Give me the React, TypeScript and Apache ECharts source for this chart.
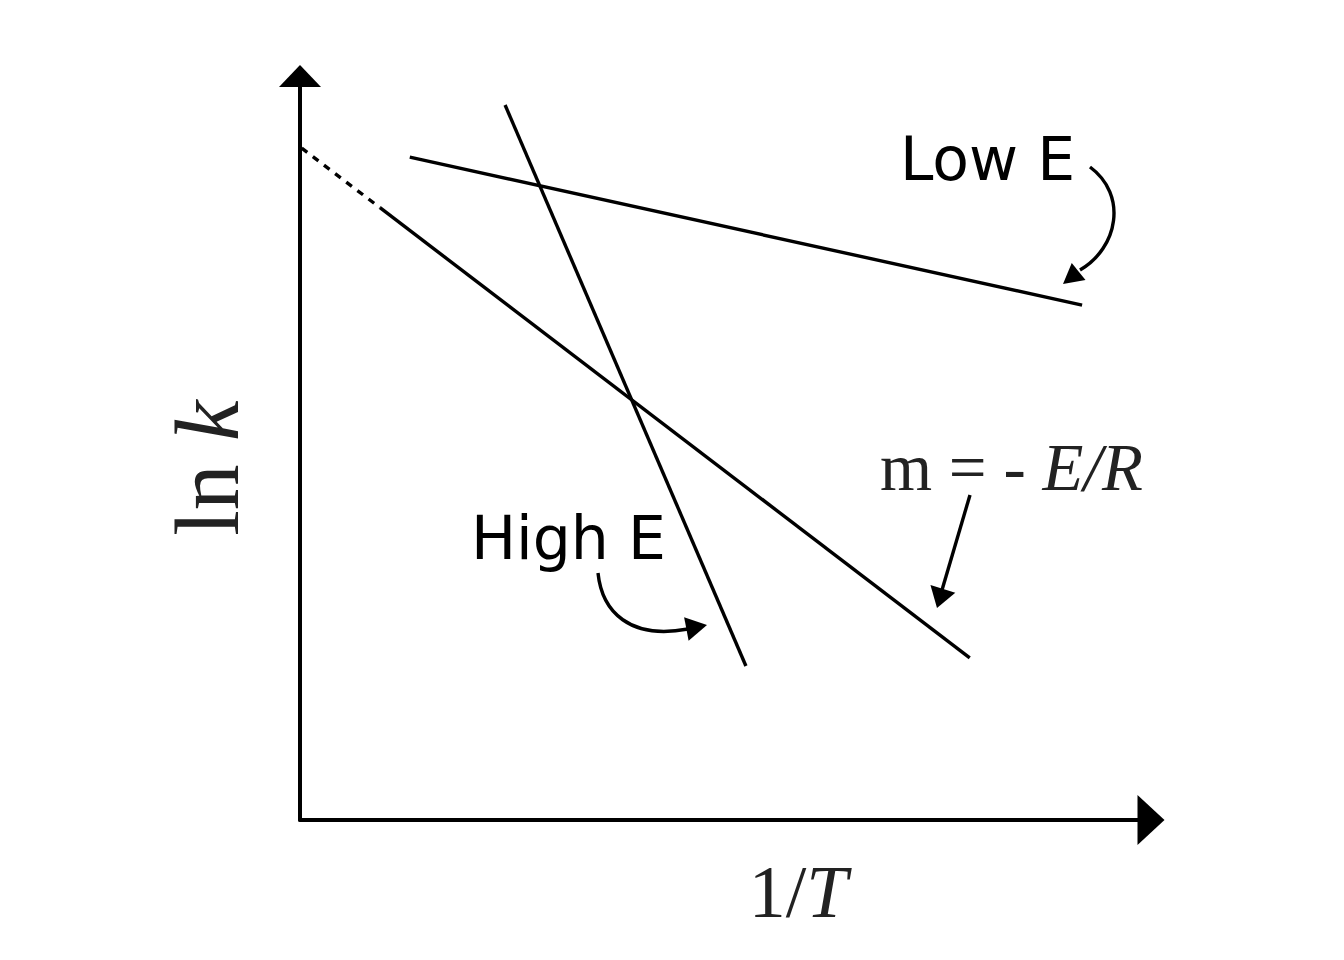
import { useEffect, useRef } from 'react';
import * as echarts from 'echarts';

// axes run 0..100 in both directions (arbitrary units, no ticks shown)
const AXIS_MIN = 0;
const AXIS_MAX = 100;

// the three Arrhenius lines: [1/T, ln k]
const lowE = [
  [12.9, 89.1],
  [91.9, 69.2],
];
const highE = [
  [24.1, 96.1],
  [52.4, 20.7],
];
const slopeExtrapolated = [
  [0.2, 90.3],
  [9.4, 82.3],
];
const slopeMeasured = [
  [9.4, 82.3],
  [78.7, 21.8],
];

const LABEL_LOW = 'Low E';
const LABEL_HIGH = 'High E';
const X_NAME = ['1/', 'T'];
const Y_NAME = ['ln ', 'k'];
const SLOPE_NAME = ['m = - ', 'E/R'];

const INK = '#000';
const SANS = '"DejaVu Sans", Verdana, sans-serif';
const SERIF = '"Liberation Serif", "Times New Roman", serif';

// small filled triangle at the end of an annotation stroke
function arrowHead(tip: number[], from: number[], len: number, wid: number) {
  const dx = tip[0] - from[0];
  const dy = tip[1] - from[1];
  const d = Math.hypot(dx, dy) || 1;
  const ux = dx / d;
  const uy = dy / d;
  const bx = tip[0] - ux * len;
  const by = tip[1] - uy * len;
  return {
    type: 'polygon',
    shape: {
      points: [
        tip,
        [bx - uy * (wid / 2), by + ux * (wid / 2)],
        [bx + uy * (wid / 2), by - ux * (wid / 2)],
      ],
    },
    style: { fill: INK },
    silent: true,
  };
}

export default function App() {
  const chartRef = useRef<HTMLDivElement>(null);

  useEffect(() => {
    if (!chartRef.current) return;
    const chart = echarts.init(chartRef.current, undefined, { renderer: 'svg' });

    const lineSeries = (data: number[][], dashed = false) => ({
      type: 'line' as const,
      data,
      symbol: 'none',
      silent: true,
      lineStyle: { color: INK, width: 3.4, type: dashed ? [7, 7] : 'solid' },
    });

    const axisCommon = {
      type: 'value' as const,
      min: AXIS_MIN,
      max: AXIS_MAX,
      axisTick: { show: false },
      axisLabel: { show: false },
      splitLine: { show: false },
    };

    chart.setOption({
      animation: false,
      backgroundColor: '#fff',
      grid: { left: 300, right: 193, top: 76, bottom: 140 },
      xAxis: {
        ...axisCommon,
        axisLine: {
          show: true,
          symbol: ['none', 'triangle'],
          symbolSize: [50, 27],
          lineStyle: { color: INK, width: 4 },
        },
      },
      yAxis: {
        ...axisCommon,
        axisLine: {
          show: true,
          symbol: ['none', 'triangle'],
          symbolSize: [42, 22],
          lineStyle: { color: INK, width: 4 },
        },
      },
      series: [
        lineSeries(lowE),
        lineSeries(highE),
        lineSeries(slopeExtrapolated, true),
        lineSeries(slopeMeasured),
      ],
      graphic: [
        {
          type: 'text',
          x: 900,
          y: 159,
          style: {
            text: LABEL_LOW,
            fontSize: 60,
            fontFamily: SANS,
            fill: INK,
            align: 'left',
            verticalAlign: 'middle',
          },
        },
        {
          type: 'text',
          x: 471,
          y: 538,
          style: {
            text: LABEL_HIGH,
            fontSize: 60,
            fontFamily: SANS,
            fill: INK,
            align: 'left',
            verticalAlign: 'middle',
          },
        },
        {
          type: 'text',
          x: 880,
          y: 467,
          style: {
            text: `{a|${SLOPE_NAME[0]}}{b|${SLOPE_NAME[1]}}`,
            align: 'left',
            verticalAlign: 'middle',
            rich: {
              a: { fontSize: 67, fontFamily: SERIF, fill: '#222' },
              b: { fontSize: 67, fontFamily: SERIF, fontStyle: 'italic', fill: '#222' },
            },
          },
        },
        {
          type: 'text',
          x: 798,
          y: 892,
          style: {
            text: `{a|${X_NAME[0]}}{b|${X_NAME[1]}}`,
            align: 'center',
            verticalAlign: 'middle',
            rich: {
              a: { fontSize: 74, fontFamily: SERIF, fill: '#222' },
              b: { fontSize: 74, fontFamily: SERIF, fontStyle: 'italic', fill: '#222' },
            },
          },
        },
        {
          type: 'text',
          x: 207,
          y: 468,
          rotation: Math.PI / 2,
          style: {
            text: `{a|${Y_NAME[0]}}{b|${Y_NAME[1]}}`,
            align: 'center',
            verticalAlign: 'middle',
            rich: {
              a: { fontSize: 92, fontFamily: SERIF, fill: '#222' },
              b: { fontSize: 92, fontFamily: SERIF, fontStyle: 'italic', fill: '#222' },
            },
          },
        },
        // Low E pointer
        {
          type: 'bezierCurve',
          shape: { x1: 1090, y1: 167, cpx1: 1128, cpy1: 195, cpx2: 1118, cpy2: 248, x2: 1080, y2: 270 },
          style: { stroke: INK, lineWidth: 3.4, fill: 'none' },
          silent: true,
        },
        arrowHead([1063, 284], [1083, 268], 20, 22),
        // High E pointer
        {
          type: 'bezierCurve',
          shape: { x1: 598, y1: 573, cpx1: 602, cpy1: 612, cpx2: 630, cpy2: 640, x2: 688, y2: 629 },
          style: { stroke: INK, lineWidth: 3.4, fill: 'none' },
          silent: true,
        },
        arrowHead([707, 625], [686, 629], 21, 24),
        // slope pointer
        {
          type: 'line',
          shape: { x1: 970, y1: 495, x2: 942, y2: 590 },
          style: { stroke: INK, lineWidth: 3.4 },
          silent: true,
        },
        arrowHead([937, 608], [945, 582], 20, 26),
      ],
    });

    return () => chart.dispose();
  }, []);

  return (
    <div
      ref={chartRef}
      style={{ position: 'fixed', left: 0, top: 0, width: 1344, height: 960, background: '#fff' }}
    />
  );
}
